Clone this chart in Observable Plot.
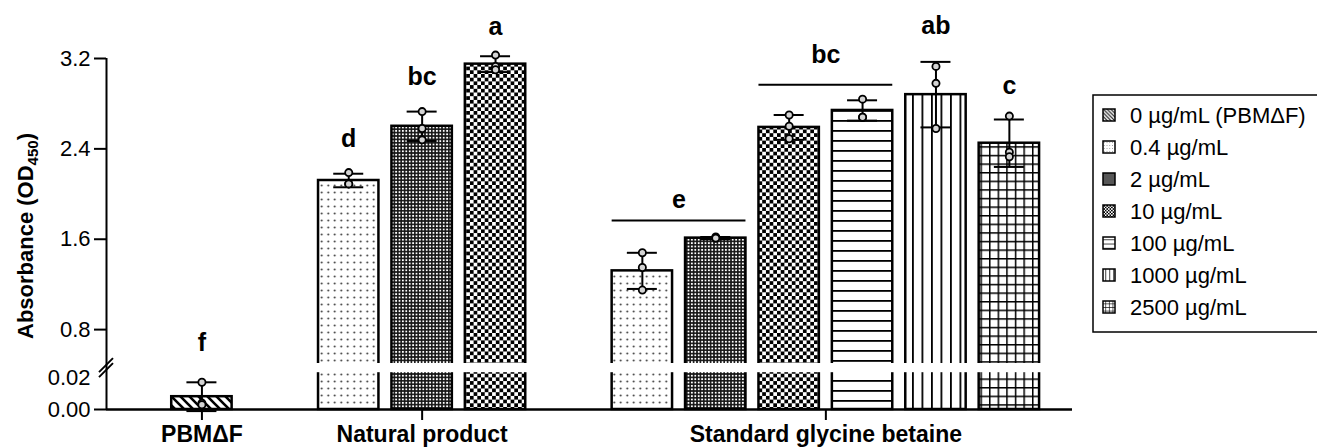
<!DOCTYPE html>
<html><head><meta charset="utf-8">
<script src="https://cdn.jsdelivr.net/npm/d3@7"></script>
<script src="https://cdn.jsdelivr.net/npm/@observablehq/plot@0.6"></script>
<style>
body{margin:0;background:#fff;}
#chart{position:relative;width:1317px;height:448px;overflow:hidden;}
</style></head><body><div id="chart"></div>
<script>
// ---------- data ----------
const groups = ["PBMΔF", "Natural product", "Standard glycine betaine"];
const concentrations = ["0 µg/mL (PBMΔF)", "0.4 µg/mL", "2 µg/mL", "10 µg/mL", "100 µg/mL", "1000 µg/mL", "2500 µg/mL"];

const barGroup = ["PBMΔF", "Natural product", "Natural product", "Natural product",
  "Standard glycine betaine", "Standard glycine betaine", "Standard glycine betaine",
  "Standard glycine betaine", "Standard glycine betaine", "Standard glycine betaine"];
const barConc = ["0 µg/mL (PBMΔF)", "0.4 µg/mL", "2 µg/mL", "10 µg/mL",
  "0.4 µg/mL", "2 µg/mL", "10 µg/mL", "100 µg/mL", "1000 µg/mL", "2500 µg/mL"];
const barMean = [0.008, 2.12, 2.60, 3.15, 1.32, 1.61, 2.59, 2.74, 2.88, 2.45];
const barSD   = [0.009, 0.06, 0.13, 0.07, 0.16, 0.01, 0.11, 0.09, 0.29, 0.21];
const replicates = [
  [0.017, 0.004, 0.003],
  [2.19, 2.09, 2.09],
  [2.73, 2.58, 2.48],
  [3.23, 3.13, 3.10],
  [1.48, 1.35, 1.15],
  [1.62, 1.61, 1.61],
  [2.70, 2.60, 2.49],
  [2.84, 2.68, 2.68],
  [3.13, 2.98, 2.58],
  [2.69, 2.37, 2.33]
];

const letterText = ["f", "d", "bc", "a", "e", "bc", "ab", "c"];
const letterFirstBar = [0, 1, 2, 3, 4, 6, 8, 9];
const letterLastBar  = [0, 1, 2, 3, 5, 7, 8, 9];
const letterY = [0.685, 2.486, 3.04, 3.475, 1.951, 3.227, 3.484, 2.96];
const letterLineY = [null, null, null, null, 1.765, 2.967, null, null];

const yTicks = [0, 0.02, 0.8, 1.6, 2.4, 3.2];
const yTickLabels = ["0.00", "0.02", "0.8", "1.6", "2.4", "3.2"];
const yBreak = [0.023, 0.5];   // axis break: lower segment top, upper segment bottom
const yTop = 3.2;

// ---------- derived tables ----------
const bars = barConc.map((c, i) => ({group: barGroup[i], conc: c, mean: barMean[i], sd: barSD[i]}));
let slot = -1, prev = null;
for (const b of bars) { slot += (prev !== null && b.group !== prev) ? 2 : 1; b.slot = slot; prev = b.group; }
const points = bars.flatMap((b, i) => replicates[i].map(v => ({slot: b.slot, value: v})));
const groupCenters = groups.map(g => {
  const s = bars.filter(b => b.group === g).map(b => b.slot);
  return (d3.min(s) + d3.max(s) + 1) / 2;
});
const letters = letterText.map((t, i) => {
  const a = bars[letterFirstBar[i]].slot, b = bars[letterLastBar[i]].slot + 1;
  return {text: t, x: (a + b) / 2, y: letterY[i], x1: a, x2: b, lineY: letterLineY[i]};
});

// ---------- patterns ----------
function addPatterns(defs, prefix, k) {
  const mk = (i, w, h) => {
    const p = defs.append("pattern").attr("id", prefix + i).attr("patternUnits", "userSpaceOnUse")
      .attr("width", w).attr("height", h);
    if (k !== 1) p.attr("patternTransform", `scale(${k})`);
    p.append("rect").attr("width", w).attr("height", h).attr("fill", "white");
    return p;
  };
  let p = mk(0, 9, 9);
  p.append("path").attr("d", "M0,0L9,9M-3,6L3,12M6,-3L12,3").attr("stroke", "black").attr("stroke-width", 2.6);
  p = mk(1, 6.5, 7);
  p.append("circle").attr("cx", 3.25).attr("cy", 3.5).attr("r", 0.95).attr("fill", "#333");
  p = mk(2, 3.4, 3.4);
  p.append("rect").attr("width", 3.4).attr("height", 3.4).attr("fill", "#151515");
  p.append("rect").attr("x", 0.8).attr("y", 0.8).attr("width", 1.8).attr("height", 1.8).attr("fill", "white");
  p = mk(3, 7.4, 7.4);
  p.append("rect").attr("width", 3.7).attr("height", 3.7).attr("fill", "black");
  p.append("rect").attr("x", 3.7).attr("y", 3.7).attr("width", 3.7).attr("height", 3.7).attr("fill", "black");
  p = mk(4, 10, 10);
  p.append("rect").attr("width", 10).attr("height", 1.8).attr("fill", "black");
  p = mk(5, 9.5, 10);
  p.append("rect").attr("width", 1.8).attr("height", 10).attr("fill", "black");
  p = mk(6, 8.6, 8.6);
  p.append("rect").attr("width", 8.6).attr("height", 1.5).attr("fill", "black");
  p.append("rect").attr("width", 1.5).attr("height", 8.6).attr("fill", "black");
}

const FONT = "'Liberation Sans', Arial, Helvetica, sans-serif";
const xDomain = [-0.8, 12.36];

const chart = Plot.plot({
  width: 1317, height: 448,
  marginLeft: 106, marginRight: 245, marginTop: 0, marginBottom: 39,
  style: {fontFamily: FONT, color: "black", background: "white", overflow: "visible"},
  x: {type: "linear", domain: xDomain, range: [106, 1072]},
  y: {type: "linear", domain: [0, yBreak[0], yBreak[1], yTop], range: [409, 372.2, 363, 58]},
  color: {type: "ordinal", domain: concentrations, range: concentrations.map((c, i) => `url(#pat${i})`)},
  marks: [
    () => { const defs = d3.create("svg:defs"); addPatterns(defs, "pat", 1); addPatterns(defs, "lpat", 0.42); return defs.node(); },
    Plot.rectY(bars, {x1: "slot", x2: d => d.slot + 1, y1: 0, y2: "mean", fill: "conc",
      stroke: "black", strokeWidth: 2.5, insetLeft: 6.5, insetRight: 6.5}),
    Plot.rect([{lo: yBreak[0], hi: yBreak[1]}], {y1: "lo", y2: "hi", fill: "white"}),
    Plot.ruleX(bars, {x: d => d.slot + 0.5, y1: d => d.mean - d.sd, y2: d => d.mean + d.sd, strokeWidth: 2}),
    Plot.ruleY(bars, {y: d => d.mean + d.sd, x1: "slot", x2: d => d.slot + 1, insetLeft: 21.7, insetRight: 21.7, strokeWidth: 2}),
    Plot.ruleY(bars, {y: d => d.mean - d.sd, x1: "slot", x2: d => d.slot + 1, insetLeft: 21.7, insetRight: 21.7, strokeWidth: 2}),
    Plot.dot(points, {x: d => d.slot + 0.5, y: "value", r: 3.6, fill: "#d4d4d4", stroke: "black", strokeWidth: 1.8}),
    Plot.text(letters, {x: "x", y: "y", text: "text", fontSize: 25, fontWeight: "bold", fill: "black"}),
    Plot.ruleY(letters.filter(d => d.lineY != null), {y: "lineY", x1: "x1", x2: "x2", insetLeft: 6.5, insetRight: 6.5, strokeWidth: 2}),
    Plot.ruleX([xDomain[0]], {y1: 0, y2: yTop, strokeWidth: 2}),
    Plot.ruleY([0], {strokeWidth: 2.5}),
    Plot.axisY({ticks: yTicks.filter(t => t !== 0.02), tickFormat: t => yTickLabels[yTicks.indexOf(t)],
      tickSize: 12, tickPadding: 4, fontSize: 22, strokeWidth: 2, label: null}),
    Plot.axisY({ticks: [0.02], tickFormat: t => yTickLabels[yTicks.indexOf(t)],
      tickSize: 0, tickPadding: 16, fontSize: 22, label: null}),
    Plot.axisX({ticks: groupCenters, tickFormat: v => groups[groupCenters.indexOf(v)],
      tickSize: 11, tickPadding: 5, fontSize: 23, fontWeight: "bold", strokeWidth: 2, label: null}),
    // axis-break marks
    (index, s) => {
      const x0 = s.x(xDomain[0]), y0 = s.y((yBreak[0] + yBreak[1]) / 2);
      const g = d3.create("svg:g").attr("stroke", "black").attr("stroke-width", 2);
      for (const off of [-2.5, 2.5]) g.append("line").attr("x1", x0 - 7).attr("y1", y0 + 7 + off).attr("x2", x0 + 7).attr("y2", y0 - 7 + off);
      return g.node();
    },
    // y-axis title
    () => {
      const t = d3.create("svg:text").attr("transform", "translate(33,236) rotate(-90)")
        .attr("text-anchor", "middle").attr("font-size", 22).attr("font-weight", "bold").attr("fill", "black");
      t.append("tspan").text("Absorbance (OD");
      t.append("tspan").attr("font-size", 15).attr("dy", 5).text("450");
      t.append("tspan").attr("dy", -5).text(")");
      return t.node();
    },
    // legend
    () => {
      const g = d3.create("svg:g").attr("font-size", 22).attr("fill", "black")
        .attr("text-anchor", "start").attr("font-family", FONT);
      g.append("rect").attr("x", 1093).attr("y", 95).attr("width", 260).attr("height", 237)
        .attr("fill", "white").attr("stroke", "black").attr("stroke-width", 1.5);
      concentrations.forEach((c, i) => {
        const y = 115 + 32 * i;
        g.append("rect").attr("x", 1103).attr("y", y - 6).attr("width", 12).attr("height", 12)
          .attr("fill", `url(#lpat${i})`).attr("stroke", "black").attr("stroke-width", 1.5);
        g.append("text").attr("x", 1130).attr("y", y).attr("dy", "0.35em").attr("text-anchor", "start").text(c);
      });
      return g.node();
    }
  ]
});
chart.querySelectorAll('[aria-label="x-axis tick label"] text, [aria-label="x-axis tick label"]').forEach(e => e.setAttribute("font-weight", "bold"));
document.getElementById("chart").appendChild(chart);
</script></body></html>
